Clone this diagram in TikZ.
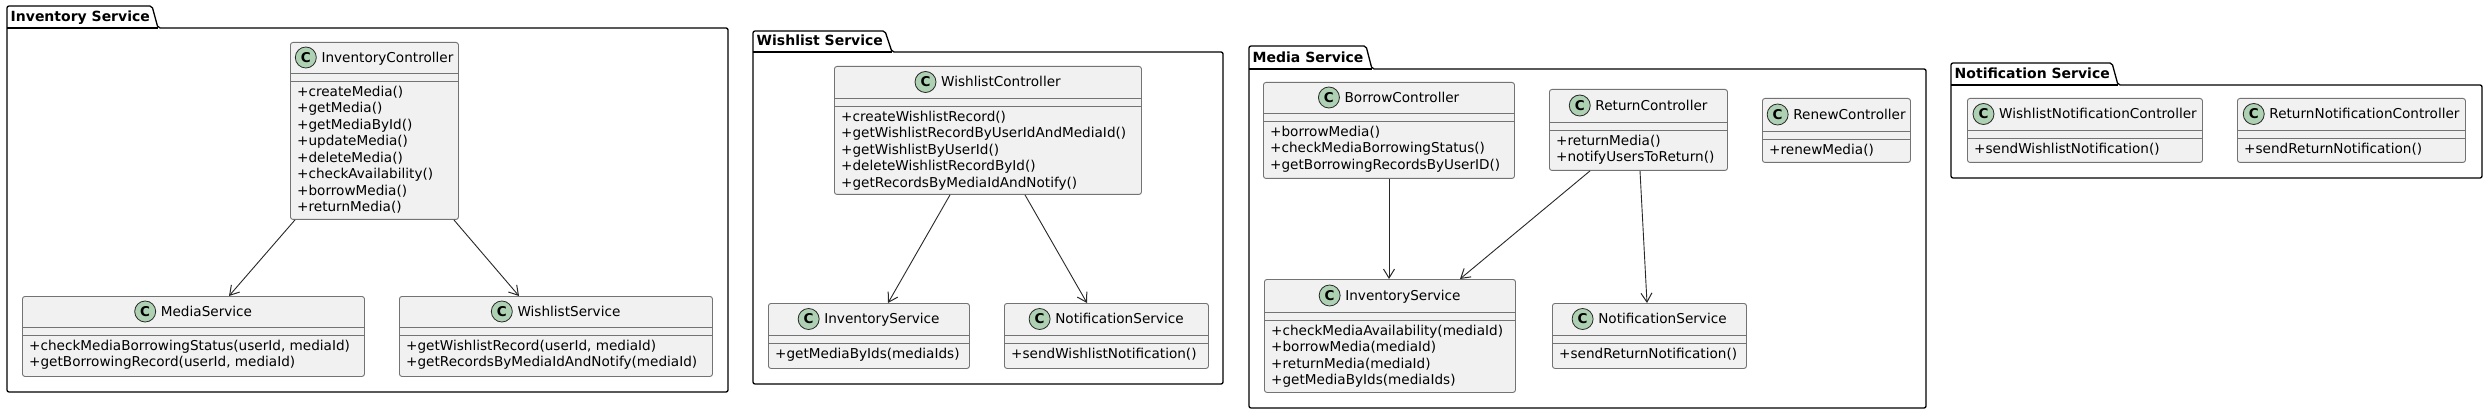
\documentclass[tikz,border=0pt]{standalone}
\usepackage{fontspec}
\setmainfont{DejaVu Sans}
\usetikzlibrary{arrows.meta,calc}
\definecolor{clsfill}{RGB}{241,241,241}
\definecolor{clsline}{RGB}{115,115,115}
\definecolor{spotfill}{RGB}{173,209,178}
\definecolor{arrline}{RGB}{40,40,40}
\tikzset{
  clsbox/.style={draw=clsline, fill=clsfill, line width=0.9pt, rounded corners=2.5pt, inner sep=0pt},
  divline/.style={draw=clsline, line width=0.9pt},
  spot/.style={circle, draw=arrline, fill=spotfill, line width=0.8pt, minimum size=21pt, inner sep=0pt, font=\bfseries\fontsize{13.5}{13.5}\selectfont},
  titlefont/.style={font=\fontsize{13.6}{16}\selectfont},
  methfont/.style={font=\fontsize{13.6}{16.5}\selectfont},
  pkg/.style={draw=black, line width=1.3pt, rounded corners=2pt},
  pkglabel/.style={inner sep=0pt, font=\bfseries\fontsize{14}{15}\selectfont},
  dep/.style={draw=arrline, line width=0.9pt, -{Straight Barb[length=9pt,width=11pt,line width=1pt]}}
}
% name, x, y, w, h, head, title, methods
\newcommand\umlcls[8]{%
  \pgfmathsetmacro\hdA{#6}%
  \pgfmathsetmacro\hdB{#6+8}%
  \pgfmathsetmacro\hdC{#6/2+4.8}%
  \node[clsbox, minimum width=#4pt, minimum height=#5pt, anchor=north west] (#1) at (#2,#3) {};
  \draw[divline] ($(#1.north west)+(0pt,-\hdA pt)$) -- ($(#1.north east)+(0pt,-\hdA pt)$);
  \draw[divline] ($(#1.north west)+(0pt,-\hdB pt)$) -- ($(#1.north east)+(0pt,-\hdB pt)$);
  \node[titlefont, inner sep=0pt, anchor=base] (#1-t) at ($(#1.north)+(0pt,-\hdC pt)$) {\hspace*{26pt}#7};
  \node[spot] (#1-c) at ($(#1-t.base west)+(10.5pt,4.8pt)$) {C};
  \node[methfont, inner sep=0pt, anchor=north west, align=left] (#1-m) at ($(#1.north west)+(7pt,-\hdB pt-4.5pt)$) {#8};
}
% name, left, tabtop, tabright, slantend, bodytop, right, bottom, label
\newcommand\umlpkg[9]{%
  \draw[pkg] (#2,#8) -- (#2,#3) -- (#4,#3) -- (#5,#6) -- (#7,#6) -- (#7,#8) -- cycle;
  \draw[pkg] (#2,#6) -- (#5,#6);
  \node[pkglabel, anchor=base west] (#1) at ($(#2,#6)+(3.5pt,6.5pt)$) {#9};
}
\begin{document}
\begin{tikzpicture}[x=1pt,y=-1pt]
\useasboundingbox (0,0) rectangle (2487,414);
\fill[white] (0,0) rectangle (2487,414);

% ---------- Inventory Service ----------
\umlpkg{pinv}{7}{6}{152}{158}{28}{728}{392}{Inventory Service}
\umlcls{ic}{290}{42}{168}{177}{31}{InventoryController}{+createMedia()\\+getMedia()\\+getMediaById()\\+updateMedia()\\+deleteMedia()\\+checkAvailability()\\+borrowMedia()\\+returnMedia()}
\umlcls{ms}{22}{296}{342}{80}{31}{MediaService}{+checkMediaBorrowingStatus(userId, mediaId)\\+getBorrowingRecord(userId, mediaId)}
\umlcls{ws}{399}{296}{313}{80}{31}{WishlistService}{+getWishlistRecord(userId, mediaId)\\+getRecordsByMediaIdAndNotify(mediaId)}
\draw[dep] ([xshift=5pt]ic.south west) -- ([xshift=207pt]ms.north west);
\draw[dep] ([xshift=-5pt]ic.south east) -- ([xshift=120pt]ws.north west);

% ---------- Wishlist Service ----------
\umlpkg{pwish}{753}{31}{885}{892}{52}{1223}{384}{Wishlist Service}
\umlcls{wc}{834}{66}{307}{128}{32}{WishlistController}{+createWishlistRecord()\\+getWishlistRecordByUserIdAndMediaId()\\+getWishlistByUserId()\\+deleteWishlistRecordById()\\+getRecordsByMediaIdAndNotify()}
\umlcls{wis}{768}{303}{201}{65}{32}{InventoryService}{+getMediaByIds(mediaIds)}
\umlcls{wns}{1004}{303}{204}{65}{32}{NotificationService}{+sendWishlistNotification()}
\draw[dep] ([xshift=116pt]wc.south west) -- ([xshift=120pt]wis.north west);
\draw[dep] ([xshift=191pt]wc.south west) -- ([xshift=83pt]wns.north west);

% ---------- Media Service ----------
\umlpkg{pmedia}{1249}{46}{1366}{1372}{69}{1926}{408}{Media Service}
\umlcls{bc}{1263}{82}{251}{96}{31}{BorrowController}{+borrowMedia()\\+checkMediaBorrowingStatus()\\+getBorrowingRecordsByUserID()}
\umlcls{rc}{1549}{89}{178}{81}{33}{ReturnController}{+returnMedia()\\+notifyUsersToReturn()}
\umlcls{rnc}{1762}{98}{148}{64}{33}{RenewController}{+renewMedia()}
\umlcls{mis}{1264}{279}{251}{113}{33}{InventoryService}{+checkMediaAvailability(mediaId)\\+borrowMedia(mediaId)\\+returnMedia(mediaId)\\+getMediaByIds(mediaIds)}
\umlcls{mns}{1552}{303}{194}{65}{32}{NotificationService}{+sendReturnNotification()}
\draw[dep] ([xshift=126pt]bc.south west) -- ([xshift=125pt]mis.north west);
\draw[dep] ([xshift=41pt]rc.south west) -- ([xshift=196pt]mis.north west);
\draw[dep] ([xshift=91pt]rc.south west) -- ([xshift=95pt]mns.north west);

% ---------- Notification Service ----------
\umlpkg{pnotif}{1951}{63}{2112}{2118}{85}{2482}{178}{Notification Service}
\umlcls{wnc}{1967}{98}{235}{64}{32}{WishlistNotificationController}{+sendWishlistNotification()}
\umlcls{rnoc}{2237}{98}{228}{64}{32}{ReturnNotificationController}{+sendReturnNotification()}
\end{tikzpicture}
\end{document}
